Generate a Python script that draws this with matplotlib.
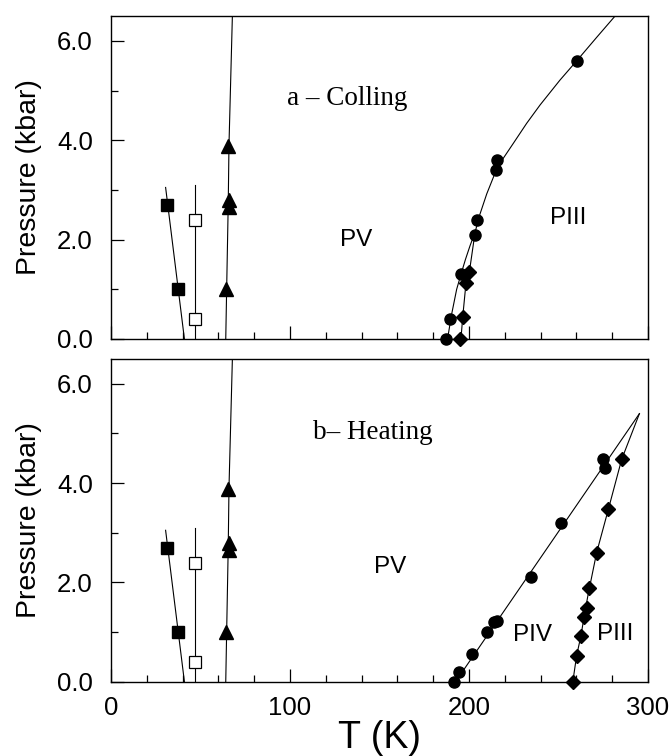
import matplotlib
matplotlib.use('Agg')
import matplotlib.pyplot as plt
from matplotlib.ticker import MultipleLocator

plt.rcParams['font.family'] = ['Liberation Sans', 'DejaVu Sans']

# low temperature transitions (same in both runs)
sq_T = [31.0, 37.5]
sq_P = [2.7, 1.0]
sq_line_T = [30.5, 41.0]
sq_line_P = [3.05, 0.0]

open_T = [47.0, 47.0]
open_P = [2.4, 0.4]
open_line_T = [47.0, 47.0]
open_line_P = [0.0, 3.1]

tri_T = [64.2, 66.0, 66.0, 65.6]
tri_P = [1.0, 2.66, 2.8, 3.88]
tri_line_T = [64.1, 64.6, 65.5, 65.9, 67.8]
tri_line_P = [0.0, 1.0, 2.75, 3.9, 6.5]

# cooling run, PV <-> PIII
cool_circ_T = [187.0, 189.4, 195.5, 203.4, 204.7, 214.9, 215.5, 260.2]
cool_circ_P = [0.0, 0.4, 1.3, 2.1, 2.4, 3.4, 3.6, 5.6]
cool_dia_T = [195.2, 196.5, 198.3, 200.2]
cool_dia_P = [0.0, 0.45, 1.12, 1.35]
cool_fit_T = [188.0, 190.3, 193.1, 195.5, 198.0, 200.6, 203.4, 206.0, 209.9, 215.0,
              219.2, 224.8, 232.2, 239.7, 250.8, 260.2, 271.3, 281.6]
cool_fit_P = [0.0, 0.5, 1.0, 1.3, 1.6, 1.88, 2.15, 2.5, 2.92, 3.38,
              3.64, 3.94, 4.34, 4.71, 5.21, 5.6, 6.07, 6.5]
cool_dfit_T = [195.5, 196.5, 198.3, 200.2, 203.4]
cool_dfit_P = [0.0, 0.45, 1.12, 1.35, 2.15]

# heating run, PV -> PIV -> PIII
heat_circ_T = [191.6, 194.2, 201.7, 209.9, 214.0, 215.5, 234.5, 251.4, 275.0, 275.9]
heat_circ_P = [0.0, 0.2, 0.55, 1.0, 1.2, 1.22, 2.1, 3.2, 4.49, 4.3]
heat_dia_T = [257.9, 260.1, 262.5, 264.2, 266.1, 267.0, 271.3, 277.9, 285.3]
heat_dia_P = [0.0, 0.52, 0.92, 1.31, 1.49, 1.89, 2.6, 3.48, 4.48]
heat_fit4_T = [192.5, 295.2]
heat_fit4_P = [0.0, 5.4]
heat_fit3_T = [258.0, 260.1, 262.5, 264.5, 266.5, 271.3, 277.9, 285.3, 295.2]
heat_fit3_P = [0.0, 0.52, 0.92, 1.35, 1.75, 2.6, 3.48, 4.48, 5.4]


def style_axes(ax, show_xlabels):
    ax.set_xlim(0, 300)
    ax.set_ylim(0, 6.5)
    ax.xaxis.set_major_locator(MultipleLocator(100))
    ax.xaxis.set_minor_locator(MultipleLocator(20))
    ax.yaxis.set_major_locator(MultipleLocator(2))
    ax.yaxis.set_minor_locator(MultipleLocator(1))
    ax.yaxis.set_major_formatter(plt.FuncFormatter(lambda v, p: f'{v:.1f}'))
    ax.tick_params(which='both', direction='in', top=False, right=False, width=0.9)
    ax.tick_params(which='major', length=9.5, labelsize=18.5)
    ax.tick_params(which='minor', length=5)
    ax.tick_params(axis='y', pad=13)
    ax.tick_params(axis='x', pad=10.5, labelbottom=show_xlabels)
    for s in ax.spines.values():
        s.set_linewidth(1.0)
    ax.set_ylabel('Pressure (kbar)', fontsize=20.5)
    ax.yaxis.set_label_coords(-0.128, 0.5)


def draw_low_T(ax):
    ax.plot(sq_line_T, sq_line_P, color='black', lw=0.8)
    ax.plot(open_line_T, open_line_P, color='black', lw=0.8)
    ax.plot(tri_line_T, tri_line_P, color='black', lw=0.8)
    ax.plot(sq_T, sq_P, 's', color='black', ms=9, zorder=3)
    ax.plot(open_T, open_P, 's', mfc='white', mec='black', mew=0.9, ms=8, zorder=3)
    ax.plot(tri_T, tri_P, '^', color='black', ms=10, zorder=3)


def plot_phase_diagram():
    fig = plt.figure(figsize=(6.72, 7.56), dpi=100)
    ax1 = fig.add_axes([0.1652, 0.5516, 0.7991, 0.4272])
    ax2 = fig.add_axes([0.1652, 0.0983, 0.7991, 0.4268])

    # (a) cooling
    draw_low_T(ax1)
    ax1.plot(cool_fit_T, cool_fit_P, color='black', lw=0.8)
    ax1.plot(cool_dfit_T, cool_dfit_P, color='black', lw=0.8)
    ax1.plot(cool_circ_T, cool_circ_P, 'o', color='black', ms=8, zorder=3, clip_on=False)
    ax1.plot(cool_dia_T, cool_dia_P, 'D', color='black', ms=7, zorder=3, clip_on=False)
    ax1.text(132, 4.85, 'a \u2013 Colling', family='Liberation Serif', fontsize=19.5,
             ha='center', va='center')
    ax1.text(137, 2.0, 'PV', fontsize=17.5, ha='center', va='center')
    ax1.text(255.5, 2.43, 'PIII', fontsize=17.5, ha='center', va='center')
    style_axes(ax1, False)

    # (b) heating
    draw_low_T(ax2)
    ax2.plot(heat_fit4_T, heat_fit4_P, color='black', lw=0.8)
    ax2.plot(heat_fit3_T, heat_fit3_P, color='black', lw=0.8)
    ax2.plot(heat_circ_T, heat_circ_P, 'o', color='black', ms=8, zorder=3, clip_on=False)
    ax2.plot(heat_dia_T, heat_dia_P, 'D', color='black', ms=7, zorder=3, clip_on=False)
    ax2.text(146, 5.02, 'b\u2013 Heating', family='Liberation Serif', fontsize=19.5,
             ha='center', va='center')
    ax2.text(156, 2.31, 'PV', fontsize=17.5, ha='center', va='center')
    ax2.text(235.6, 0.94, 'PIV', fontsize=17.5, ha='center', va='center')
    ax2.text(281.6, 0.97, 'PIII', fontsize=17.5, ha='center', va='center')
    style_axes(ax2, True)
    ax2.set_xlabel('T (K)', fontsize=27)
    ax2.xaxis.set_label_coords(0.5, -0.12)

    fig.savefig('out.png', dpi=100)


if __name__ == "__main__":
    plot_phase_diagram()
